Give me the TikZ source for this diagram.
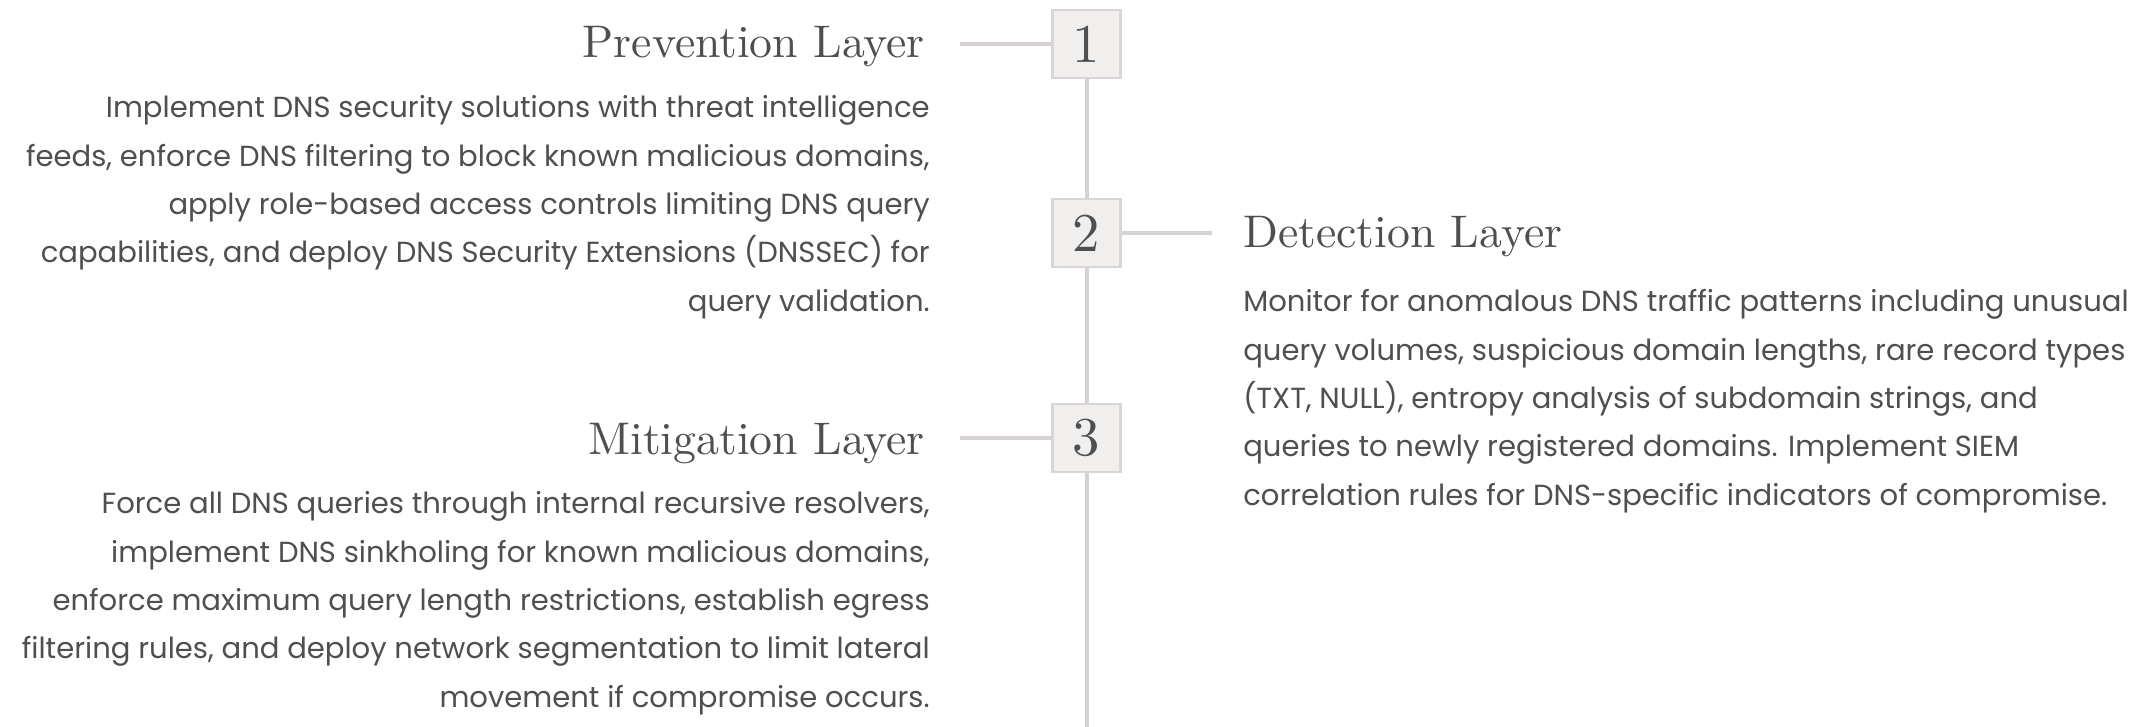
\documentclass[tikz,border=0pt]{standalone}
\usepackage{fontspec}
\newfontfamily\bodyfont{Poppins}
\newfontfamily\ttlfont{lmroman10-regular}[Extension=.otf]
\definecolor{linegray}{HTML}{D6D2D1}
\definecolor{boxfill}{HTML}{F1EFEE}
\definecolor{boxborder}{HTML}{D9D5D4}
\definecolor{txt}{HTML}{4F4F4F}
\tikzset{
  numbox/.style={draw=boxborder, fill=boxfill, line width=1.9pt, minimum width=51pt, minimum height=51pt, inner sep=0pt, text=txt, font=\ttlfont\fontsize{41}{41}\selectfont},
  conn/.style={draw=linegray, line width=3pt},
  ttl/.style={inner sep=0pt, text=txt, font=\ttlfont\fontsize{34.3}{40}\selectfont},
  bodytext/.style={inner sep=0pt, text=txt, font=\bodyfont\fontsize{21.8}{36.2}\selectfont}
}
\begin{document}
\begin{tikzpicture}[x=0.75pt, y=-0.75pt]
\useasboundingbox (0,0) rectangle (2156,727);
\coordinate (bottom) at (1086.5,727);
\coordinate (c1) at (960,44);
\coordinate (c2) at (1212,233);
\coordinate (c3) at (960,438);
% spine
\node[numbox] (b1) at (1086.5,44) {1};
\node[numbox] (b2) at (1086.5,233) {2};
\node[numbox] (b3) at (1086.5,438) {3};
\draw[conn] (b1.south) -- (b2.north);
\draw[conn] (b2.south) -- (b3.north);
\draw[conn] (b3.south) -- (bottom);
\draw[conn] (c1) -- (b1.west);
\draw[conn] (b2.east) -- (c2);
\draw[conn] (c3) -- (b3.west);
% texts (base anchor of a multi-line node = baseline of its last line)
\node[ttl, anchor=base east] (t1) at (925,58) {Prevention Layer};
\node[bodytext, anchor=base east, align=right] (p1) at (930,311) {Implement DNS security solutions with threat intelligence\\feeds, enforce DNS filtering to block known malicious domains,\\apply role-based access controls limiting DNS query\\capabilities, and deploy DNS Security Extensions (DNSSEC) for\\query validation.};
\node[ttl, anchor=base west] (t2) at (1243,248) {Detection Layer};
\node[bodytext, anchor=base west, align=left] (p2) at (1243,505) {Monitor for anomalous DNS traffic patterns including unusual\\query volumes, suspicious domain lengths, rare record types\\(TXT, NULL), entropy analysis of subdomain strings, and\\queries to newly registered domains. Implement SIEM\\correlation rules for DNS-specific indicators of compromise.};
\node[ttl, anchor=base east] (t3) at (925,454) {Mitigation Layer};
\node[bodytext, anchor=base east, align=right] (p3) at (930,707) {Force all DNS queries through internal recursive resolvers,\\implement DNS sinkholing for known malicious domains,\\enforce maximum query length restrictions, establish egress\\filtering rules, and deploy network segmentation to limit lateral\\movement if compromise occurs.};
\end{tikzpicture}
\end{document}
